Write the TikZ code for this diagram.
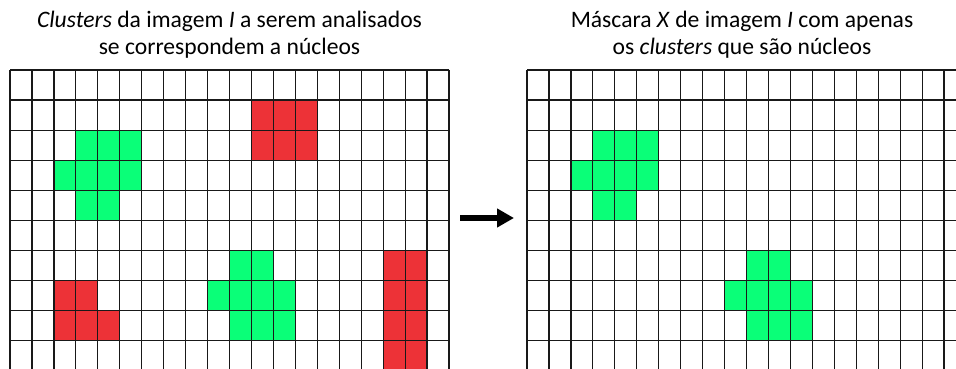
\documentclass[tikz,border=0pt]{standalone}
\usepackage{fontspec}
\setmainfont{Carlito}
\usetikzlibrary{arrows.meta}

\definecolor{nucleusgreen}{RGB}{10,255,120}
\definecolor{rejectred}{RGB}{237,50,55}

\tikzset{
  gridline/.style={draw=black!90, line width=1.2pt},
  greencell/.style={fill=nucleusgreen},
  redcell/.style={fill=rejectred},
  title/.style={anchor=base, inner sep=0pt, font=\fontsize{23.6}{28}\selectfont},
  bigarrow/.style={line width=6.5pt, -{Triangle[length=17pt,width=18pt]}}
}

% cell size of both grids
\def\cw{21.95}
\def\ch{30.07}

\begin{document}
\begin{tikzpicture}[x=1pt,y=-1pt]
  \useasboundingbox (0,0) rectangle (956,369);
  \clip (0,0) rectangle (956,369);

  % ---- left grid: all clusters ----
  \foreach \c/\r in {3/2,4/2,5/2,2/3,3/3,4/3,5/3,3/4,4/4,
                     10/6,11/6,9/7,10/7,11/7,12/7,10/8,11/8,12/8}
    \fill[greencell] ({10+\c*\cw},{70+\r*\ch}) rectangle +(\cw,\ch);
  \foreach \c/\r in {11/1,12/1,13/1,11/2,12/2,13/2,
                     2/7,3/7,2/8,3/8,4/8,
                     17/6,18/6,17/7,18/7,17/8,18/8,17/9,18/9}
    \fill[redcell] ({10+\c*\cw},{70+\r*\ch}) rectangle +(\cw,\ch);
  \foreach \i in {0,...,20}
    \draw[gridline] ({10+\i*\cw},70) -- ({10+\i*\cw},372);
  \foreach \j in {0,...,10}
    \draw[gridline] (10,{70+\j*\ch}) -- ({10+20*\cw},{70+\j*\ch});

  % ---- right grid: nuclei only ----
  \foreach \c/\r in {3/2,4/2,5/2,2/3,3/3,4/3,5/3,3/4,4/4,
                     10/6,11/6,9/7,10/7,11/7,12/7,10/8,11/8,12/8}
    \fill[greencell] ({527+\c*\cw},{70+\r*\ch}) rectangle +(\cw,\ch);
  \foreach \i in {0,...,20}
    \draw[gridline] ({527+\i*\cw},70) -- ({527+\i*\cw},372);
  \foreach \j in {0,...,10}
    \draw[gridline] (527,{70+\j*\ch}) -- ({527+20*\cw},{70+\j*\ch});

  % ---- titles ----
  \node[title] (lefttitleA) at (229.5,27.7) {\textit{Clusters} da imagem \textit{I} a serem analisados};
  \node[title] (lefttitleB) at (229.5,54.5) {se correspondem a núcleos};
  \node[title] (righttitleA) at (742,27.7) {Máscara \textit{X} de imagem \textit{I} com apenas};
  \node[title] (righttitleB) at (742,54.5) {os \textit{clusters} que são núcleos};

  % ---- arrow between the grids ----
  \coordinate (arrowfrom) at (460,218);
  \coordinate (arrowto) at (514,218);
  \draw[bigarrow] (arrowfrom) -- (arrowto);
\end{tikzpicture}
\end{document}
